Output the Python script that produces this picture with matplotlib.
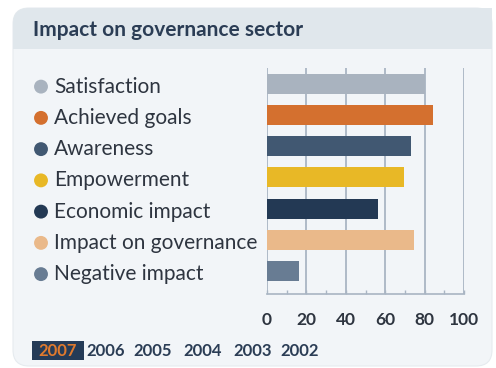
import matplotlib.pyplot as plt
import matplotlib.transforms as mtransforms
from matplotlib.patches import FancyBboxPatch, Rectangle

categories = ['Satisfaction', 'Achieved goals', 'Awareness', 'Empowerment',
              'Economic impact', 'Impact on governance', 'Negative impact']
values = [80, 84.5, 73, 69.5, 56.5, 74.5, 16]
colors = ['#A9B3BF', '#D4702F', '#415872', '#E8B826',
          '#233954', '#EAB98A', '#687C93']
x_ticks = [0, 20, 40, 60, 80, 100]
years = ['2007', '2006', '2005', '2004', '2003', '2002']
title = 'Impact on governance sector'

W, H = 496, 368
navy = '#2B3D55'
text_col = '#2E3540'
grid_col = '#A9B5C3'
plt.rcParams['font.family'] = ['Lato', 'DejaVu Sans']

fig = plt.figure(figsize=(W / 100, H / 100), dpi=100)
fig.patch.set_facecolor('white')

# background card drawn in pixel coordinates
bg = fig.add_axes([0, 0, 1, 1])
bg.set_xlim(0, W)
bg.set_ylim(H, 0)
bg.axis('off')
bg.add_patch(FancyBboxPatch((13, 8), 479, 358, boxstyle='round,pad=0,rounding_size=16',
                            fc='#F2F5F8', ec='#E6EBEF', lw=0.8))
bg.add_patch(FancyBboxPatch((13, 8), 479, 41, boxstyle='round,pad=0,rounding_size=16',
                            fc='#E0E7EC', ec='none'))
bg.add_patch(Rectangle((13, 30), 479, 19, fc='#E0E7EC', ec='none'))
bg.add_patch(Rectangle((478, 8), 14, 22, fc='#E0E7EC', ec='none'))
bg.text(33, 30, title, fontsize=15, fontweight='bold', color=navy,
        va='center', ha='left')

# year selector
year_x = [58, 106, 153, 203, 253, 300]
for i, (yr, xc) in enumerate(zip(years, year_x)):
    if i == 0:
        bg.add_patch(Rectangle((32, 341), 52, 19, fc='#253B57', ec='none'))
        bg.text(xc, 351, yr, fontsize=12, fontweight='bold', color='#E07A2E',
                ha='center', va='center')
    else:
        bg.text(xc, 351, yr, fontsize=12, fontweight='bold', color=navy,
                ha='center', va='center')

# bar chart
ax = fig.add_axes([267 / W, 1 - 294 / H, 197 / W, 226 / H])
ax.patch.set_alpha(0)
pos = list(range(len(categories)))
ax.barh(pos, values, height=0.64, color=colors, zorder=3)
ax.set_xlim(0, 100)
ax.set_ylim(6.736, -0.496)
ax.set_xticks(x_ticks)
ax.set_xticks(range(0, 101, 10), minor=True)
ax.set_yticks([])
ax.grid(axis='x', which='major', color=grid_col, lw=1.3, zorder=0)
for s in ['top', 'right', 'left']:
    ax.spines[s].set_visible(False)
ax.spines['bottom'].set_color(grid_col)
ax.spines['bottom'].set_linewidth(1.2)
ax.tick_params(axis='x', which='both', direction='in', length=3,
               color=grid_col, width=1)
ax.tick_params(axis='x', which='major', pad=13, labelsize=12.5,
               labelcolor=text_col)
for lab in ax.get_xticklabels():
    lab.set_fontweight('bold')

# legend rows on the left, aligned to bar rows
trans = mtransforms.blended_transform_factory(bg.transData, ax.transData)
for i, (cat, col) in enumerate(zip(categories, colors)):
    ax.scatter([41], [i + 0.1], s=100, color=col, transform=trans,
               clip_on=False, zorder=4, edgecolors='none')
    ax.text(54, i + 0.1, cat, transform=trans, fontsize=15, color=text_col,
            va='center', ha='left', clip_on=False)

fig.savefig('out.png', dpi=100)
